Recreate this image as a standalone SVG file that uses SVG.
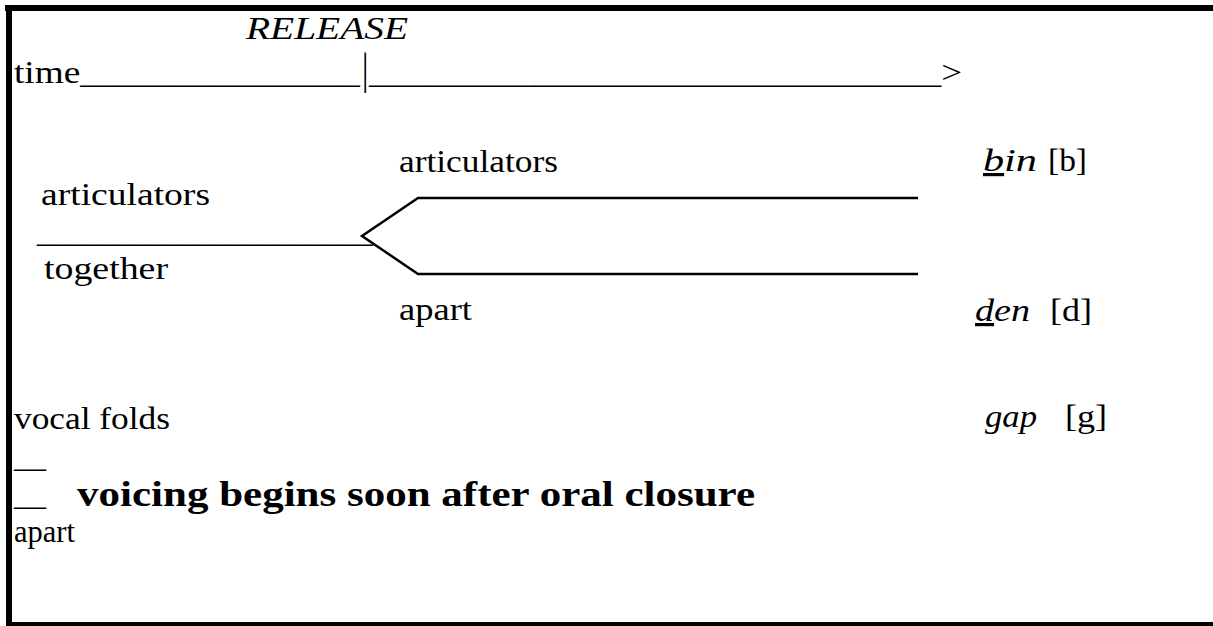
<svg xmlns="http://www.w3.org/2000/svg" width="1213" height="626" viewBox="0 0 1213 626">
<style>
text{font-family:"Liberation Serif","Times New Roman",serif;font-size:32px;fill:#000}
.it{font-style:italic}
.b{font-weight:bold}
.u{text-decoration:underline;text-decoration-thickness:1.5px}
.ln{fill:none;stroke:#000;stroke-width:2.5}
</style>
<rect width="1213" height="626" fill="#fff"/>
<g id="frame">
<rect x="5" y="5" width="1208" height="6" fill="#000"/>
<rect x="6" y="5" width="6" height="621" fill="#000"/>
<rect x="6" y="622" width="1207" height="4" fill="#000"/>
</g>
<g id="release"><text class="it" x="246" y="39" textLength="162" lengthAdjust="spacingAndGlyphs">RELEASE</text></g>
<g id="time-axis">
<text x="14" y="83" textLength="346" lengthAdjust="spacingAndGlyphs">time_______________</text>
<text transform="translate(362,84) scale(1,1.4)" x="0" y="0">|</text>
<text x="369" y="83" textLength="593" lengthAdjust="spacingAndGlyphs">_______________________________&gt;</text>
</g>
<g id="articulators-top"><text x="399" y="172" textLength="159" lengthAdjust="spacingAndGlyphs">articulators</text></g>
<g id="bin"><text class="it" x="983" y="171" textLength="54" lengthAdjust="spacingAndGlyphs"><tspan class="u">b</tspan>in</text><text x="1048" y="171" textLength="39" lengthAdjust="spacingAndGlyphs">[b]</text></g>
<g id="articulators-left"><text x="41" y="205" textLength="169" lengthAdjust="spacingAndGlyphs">articulators</text></g>
<g id="together-line"><text x="37" y="242" textLength="336" lengthAdjust="spacingAndGlyphs">_____________________</text></g>
<g id="together"><text x="44" y="279" textLength="124" lengthAdjust="spacingAndGlyphs">together</text></g>
<g id="apart-top"><text x="399" y="320" textLength="73" lengthAdjust="spacingAndGlyphs">apart</text></g>
<g id="den"><text class="it" x="975" y="321" textLength="55" lengthAdjust="spacingAndGlyphs"><tspan class="u">d</tspan>en</text><text x="1050" y="321" textLength="42" lengthAdjust="spacingAndGlyphs">[d]</text></g>
<g id="vocal-folds"><text x="14" y="429" textLength="156" lengthAdjust="spacingAndGlyphs">vocal folds</text></g>
<g id="gap"><text class="it" x="985" y="427" textLength="52" lengthAdjust="spacingAndGlyphs">gap</text><text x="1065" y="427" textLength="42" lengthAdjust="spacingAndGlyphs">[g]</text></g>
<g id="voicing">
<text x="14" y="467" textLength="32" lengthAdjust="spacingAndGlyphs">__</text>
<text x="14" y="505" textLength="32" lengthAdjust="spacingAndGlyphs">__</text>
<text class="b" x="77" y="506" style="font-size:35px" textLength="678" lengthAdjust="spacingAndGlyphs">voicing begins soon after oral closure</text>
<text x="14" y="542" textLength="61" lengthAdjust="spacingAndGlyphs">apart</text>
</g>
<g id="connectors">
<polyline class="ln" points="918,198 418,198 362,236 418,274 918,274"/>
</g>
</svg>
